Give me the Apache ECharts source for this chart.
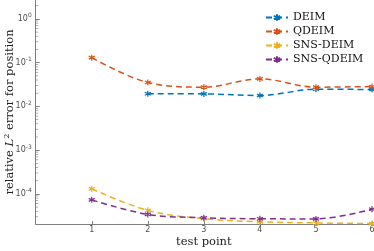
<!DOCTYPE html>
<html>
<head>
<meta charset="utf-8">
<script src="https://cdn.jsdelivr.net/npm/echarts@6/dist/echarts.min.js"></script>
<style>html,body{margin:0;padding:0;background:#fff}#c{width:374px;height:251px}</style>
</head>
<body>
<div id="c"></div>
<script>
var testPoints = [1, 2, 3, 4, 5, 6];
var deim = [null, 0.0195, 0.0193, 0.0177, 0.0247, 0.0243];
var qdeim = [0.13, 0.035, 0.0275, 0.0425, 0.0275, 0.0284];
var snsDeim = [1.3e-4, 4.2e-5, 2.7e-5, 2.3e-5, 2.17e-5, 2.1e-5];
var snsQdeim = [7.3e-5, 3.4e-5, 2.85e-5, 2.7e-5, 2.68e-5, 4.47e-5];
var seriesNames = ['DEIM', 'QDEIM', 'SNS-DEIM', 'SNS-QDEIM'];
var colors = ['#0072BD', '#D95319', '#EDB120', '#7E2F8E'];
var yMin = 2.05e-5, yMax = 2.7;

var minorTicks = [];
for (var e = -5; e <= 0; e++) {
  for (var k = 2; k <= 9; k++) {
    var v = k * Math.pow(10, e);
    if (v > yMin && v < yMax) minorTicks.push([0, v]);
  }
}

var serif = 'DejaVu Serif';
var star = 'path://M0,-1L0,1M-0.87,-0.5L0.87,0.5M-0.87,0.5L0.87,-0.5';
function mk(name, vals, color) {
  return {
    name: name, type: 'line', smooth: 0.35,
    data: testPoints.map(function (x, i) { return vals[i] == null ? [x, null] : [x, vals[i]]; }),
    connectNulls: false,
    symbol: star, symbolSize: 6,
    itemStyle: { color: color, borderColor: color, borderWidth: 1.2 },
    lineStyle: { color: color, width: 1.5, type: [6, 4] },
    emphasis: { disabled: true },
    z: 3
  };
}

var chart = echarts.init(document.getElementById('c'), null, { renderer: 'canvas' });
var series = [
  mk(seriesNames[0], deim, colors[0]),
  mk(seriesNames[1], qdeim, colors[1]),
  mk(seriesNames[2], snsDeim, colors[2]),
  mk(seriesNames[3], snsQdeim, colors[3]),
  {
    type: 'scatter', name: 'minor', data: minorTicks, silent: true, z: 5, clip: false,
    symbol: 'rect', symbolSize: [2.5, 0.8], symbolOffset: [1.25, 0],
    itemStyle: { color: '#7f7f7f' }, emphasis: { disabled: true }
  }
];

chart.setOption({
  animation: false,
  backgroundColor: '#fff',
  grid: { left: 35.7, right: 2, top: 0, bottom: 27, outerBoundsMode: 'none', containLabel: false },
  legend: {
    data: seriesNames, orient: 'vertical', left: 260, top: 7, itemGap: 3,
    itemWidth: 22, itemHeight: 8,
    textStyle: { fontFamily: serif, fontSize: 11, color: '#111' }
  },
  xAxis: {
    type: 'value', min: 0, max: 6, interval: 1,
    name: 'test point', nameLocation: 'middle', nameGap: 12, nameMoveOverlap: false,
    nameTextStyle: { fontFamily: serif, fontSize: 11.5, color: '#222' },
    axisLine: { lineStyle: { color: '#7f7f7f', width: 1 } },
    axisTick: { inside: true, length: 3, lineStyle: { color: '#7f7f7f' } },
    axisLabel: { fontFamily: 'DejaVu Sans', fontSize: 8, color: '#4d4d4d', margin: 2,
      formatter: function (v) { return v === 0 ? '' : String(v); } },
    splitLine: { show: false }
  },
  yAxis: {
    type: 'log', logBase: 10, min: yMin, max: yMax,
    name: 'relative {i|L}{s|2} error for position', nameLocation: 'middle', nameGap: 19, nameMoveOverlap: false,
    nameTextStyle: { fontFamily: serif, fontSize: 11.5, color: '#222',
      rich: { i: { fontFamily: serif, fontStyle: 'italic', fontSize: 11.5, color: '#222' },
              s: { fontFamily: serif, fontSize: 8, verticalAlign: 'top', padding: [0, 0, 6, 0], color: '#222' } } },
    axisLine: { show: true, lineStyle: { color: '#7f7f7f', width: 1 } },
    axisTick: { inside: true, length: 4, lineStyle: { color: '#7f7f7f' } },
    axisLabel: { showMinLabel: false, showMaxLabel: false, margin: 4,
      formatter: function (v) {
        var e = Math.log10(v), r = Math.round(e);
        if (Math.abs(e - r) > 1e-6) return '';
        return '{b|10}{s|' + r + '}';
      },
      rich: { b: { fontFamily: 'DejaVu Sans', fontSize: 8, color: '#4d4d4d' },
              s: { fontFamily: 'DejaVu Sans', fontSize: 6, color: '#4d4d4d', padding: [0, 0, 6, 0] } } },
    splitLine: { show: false }
  },
  series: series
});
</script>
</body>
</html>
